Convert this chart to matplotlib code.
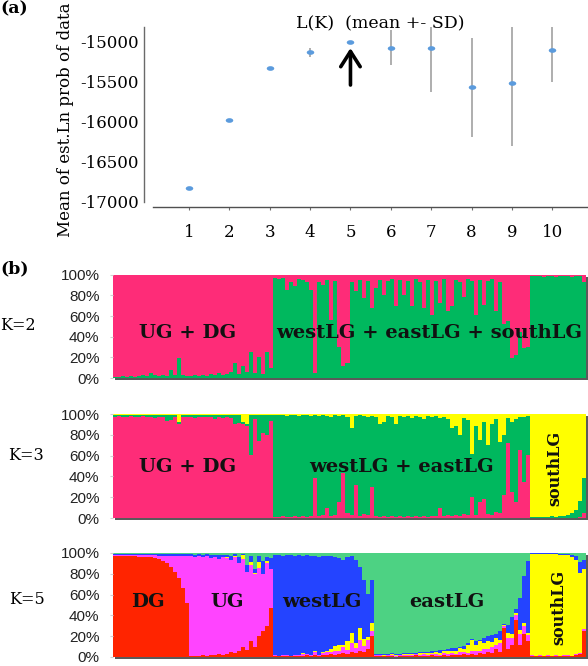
import numpy as np
import matplotlib
matplotlib.use("Agg")
import matplotlib.pyplot as plt
from matplotlib.path import Path
from matplotlib.transforms import Affine2D, ScaledTranslation
from matplotlib.patches import Rectangle
from matplotlib.ticker import PercentFormatter, FixedLocator

# ---------------- Panel (a) data: L(K) mean +- SD ----------------
K_values = [1, 2, 3, 4, 5, 6, 7, 8, 9, 10]
lnp_mean = [-16833, -15985, -15337, -15137, -15005, -15080, -15087, -15574, -15516, -15112]
lnp_sd = [0, 0, 0, 55, 0, 220, 540, 620, 790, 392]
y_ticks_a = [-17000, -16500, -16000, -15500, -15000]

# ---------------- Panel (b) data: STRUCTURE membership ----------------
group_names = ["DG", "UG", "westLG", "eastLG", "southLG"]
group_counts = [19, 21, 25, 39, 14]

# K=2 : green share (bottom), pink = remainder (top)
k2_green = ([0.01, 0.01, 0.02, 0.01, 0.02, 0.01, 0.02, 0.03, 0.02, 0.05, 0.03, 0.02, 0.03, 0.02, 0.08, 0.03, 0.19, 0.03, 0.02]
            + [0.02, 0.03, 0.02, 0.03, 0.02, 0.04, 0.03, 0.05, 0.03, 0.04, 0.06, 0.15, 0.04, 0.12, 0.06, 0.25, 0.05, 0.20, 0.04, 0.25, 0.10]
            + [0.97, 0.96, 0.97, 0.85, 0.93, 0.89, 0.96, 0.95, 0.93, 0.85, 0.05, 0.93, 0.90, 0.95, 0.56, 0.94, 0.30, 0.12, 0.15, 0.93, 0.84, 0.95, 0.77, 0.94, 0.68]
            + [0.87, 0.95, 0.80, 0.94, 0.96, 0.70, 0.95, 0.80, 0.94, 0.70, 0.96, 0.93, 0.68, 0.95, 0.61, 0.94, 0.73, 0.96, 0.65, 0.70,
               0.95, 0.93, 0.78, 0.96, 0.94, 0.61, 0.95, 0.71, 0.94, 0.96, 0.65, 0.93, 0.52, 0.55, 0.19, 0.22, 0.45, 0.29, 0.30]
            + [0.99, 0.99, 0.99, 0.98, 0.99, 0.99, 0.98, 0.99, 0.99, 0.99, 0.98, 0.99, 0.99, 0.93])

# K=3 : pink (bottom), green = remainder (middle), yellow (top)
k3_pink = ([0.97, 0.98, 0.97, 0.97, 0.98, 0.97, 0.97, 0.98, 0.97, 0.97, 0.96, 0.97, 0.97, 0.93, 0.94, 0.97, 0.90, 0.97, 0.97]
           + [0.97, 0.96, 0.97, 0.97, 0.97, 0.97, 0.95, 0.97, 0.96, 0.97, 0.96, 0.90, 0.91, 0.90, 0.88, 0.61, 0.95, 0.74, 0.82, 0.80, 0.93]
           + [0.01, 0.01, 0.02, 0.01, 0.01, 0.02, 0.01, 0.02, 0.01, 0.02, 0.38, 0.02, 0.03, 0.10, 0.02, 0.03, 0.15, 0.43, 0.05, 0.03,
              0.32, 0.02, 0.04, 0.03, 0.30]
           + [0.02, 0.01, 0.02, 0.01, 0.02, 0.01, 0.02, 0.01, 0.02, 0.01, 0.02, 0.01, 0.02, 0.01, 0.02, 0.02, 0.10, 0.02, 0.03, 0.02,
              0.03, 0.02, 0.04, 0.03, 0.20, 0.03, 0.15, 0.18, 0.04, 0.03, 0.06, 0.05, 0.22, 0.72, 0.25, 0.15, 0.65, 0.35, 0.61]
           + [0, 0, 0, 0, 0, 0, 0, 0, 0, 0, 0, 0, 0.01, 0.05])
k3_yellow = ([0.01] * 16 + [0.08, 0.01, 0.01]
             + [0.01, 0.01, 0.01, 0.01, 0.01, 0.01, 0.01, 0.01, 0.01, 0.01, 0.01, 0.01, 0.01, 0.08, 0.10, 0.01, 0.01, 0.01, 0.01, 0.01, 0.01]
             + [0.01, 0.01, 0.01, 0.02, 0.01, 0.01, 0.02, 0.01, 0.01, 0.02, 0.01, 0.02, 0.01, 0.02, 0.03, 0.01, 0.02, 0.01, 0.03, 0.13,
                0.02, 0.01, 0.02, 0.03, 0.02]
             + [0.03, 0.10, 0.08, 0.02, 0.03, 0.10, 0.02, 0.03, 0.02, 0.04, 0.02, 0.03, 0.05, 0.02, 0.03, 0.02, 0.04, 0.03, 0.05, 0.13,
                0.12, 0.20, 0.04, 0.06, 0.38, 0.12, 0.25, 0.08, 0.30, 0.10, 0.05, 0.27, 0.20, 0.04, 0.08, 0.05, 0.03, 0.03, 0.02]
             + [0.99, 0.99, 0.99, 0.99, 0.99, 0.98, 0.99, 0.98, 0.98, 0.97, 0.95, 0.92, 0.84, 0.62])

# K=5 : red, magenta, yellow, blue (stacked from bottom), green = remainder (top)
k5_red = ([0.97, 0.97, 0.97, 0.97, 0.97, 0.97, 0.96, 0.96, 0.96, 0.96, 0.95, 0.94, 0.92, 0.90, 0.87, 0.82, 0.76, 0.66, 0.52]
          + [0.01, 0.01, 0.01, 0.02, 0.01, 0.02, 0.02, 0.03, 0.02, 0.03, 0.05, 0.04, 0.06, 0.10, 0.07, 0.15, 0.10, 0.20, 0.25, 0.30, 0.47]
          + [0.01, 0.01, 0.01, 0.01, 0.01, 0.01, 0.01, 0.01, 0.02, 0.01, 0.02, 0.01, 0.02, 0.02, 0.03, 0.02, 0.03, 0.04, 0.03, 0.05,
             0.04, 0.06, 0.05, 0.08, 0.20]
          + [0.01, 0.01, 0.01, 0.01, 0.01, 0.00, 0.01, 0.01, 0.01, 0.01, 0.02, 0.01, 0.01, 0.01, 0.02, 0.01, 0.01, 0.02, 0.01, 0.02,
             0.02, 0.02, 0.03, 0.02, 0.03, 0.02, 0.04, 0.03, 0.05, 0.04, 0.08, 0.05, 0.28, 0.08, 0.12, 0.36, 0.12, 0.22, 0.15]
          + [0.01, 0.01, 0.01, 0.01, 0.01, 0.01, 0.01, 0.01, 0.01, 0.01, 0.01, 0.02, 0.03, 0.25])
k5_magenta = ([0.01, 0.01, 0.01, 0.01, 0.01, 0.01, 0.02, 0.02, 0.02, 0.02, 0.03, 0.03, 0.05, 0.07, 0.10, 0.15, 0.21, 0.31, 0.45]
              + [0.96, 0.95, 0.96, 0.94, 0.96, 0.93, 0.94, 0.91, 0.94, 0.92, 0.88, 0.92, 0.84, 0.84, 0.75, 0.73, 0.70, 0.66, 0.55, 0.60, 0.38]
              + [0.01, 0.00, 0.01, 0.01, 0.00, 0.01, 0.01, 0.02, 0.01, 0.01, 0.03, 0.01, 0.02, 0.03, 0.02, 0.04, 0.03, 0.06, 0.04, 0.08,
                 0.05, 0.10, 0.06, 0.08, 0.05]
              + [0.01, 0.01, 0.00, 0.01, 0.01, 0.01, 0.01, 0.01, 0.01, 0.01, 0.01, 0.01, 0.02, 0.01, 0.01, 0.02, 0.01, 0.02, 0.02, 0.02,
                 0.01, 0.03, 0.02, 0.02, 0.03, 0.04, 0.02, 0.05, 0.03, 0.06, 0.04, 0.08, 0.02, 0.10, 0.06, 0.04, 0.10, 0.08, 0.06]
              + [0.01, 0.00, 0.01, 0.00, 0.01, 0.00, 0.01, 0.00, 0.01, 0.01, 0.00, 0.01, 0.01, 0.02])
k5_yellow = ([0.0] * 19
             + [0, 0, 0, 0, 0, 0, 0, 0, 0, 0.01, 0, 0.01, 0, 0.04, 0, 0.03, 0.01, 0.05, 0, 0.02, 0]
             + [0, 0, 0, 0, 0, 0, 0, 0.01, 0, 0, 0.01, 0, 0.01, 0.01, 0.03, 0.05, 0.06, 0.02, 0.08, 0.10, 0.04, 0.12, 0.06, 0.03, 0.08]
             + [0, 0, 0.01, 0, 0.01, 0.01, 0, 0.01, 0.01, 0.01, 0, 0.02, 0.01, 0.02, 0.01, 0.02, 0.02, 0.02, 0.03, 0.02,
                0.03, 0.04, 0.03, 0.08, 0.10, 0.06, 0.09, 0.05, 0.07, 0.04, 0.06, 0.03, 0.01, 0.05, 0.04, 0.02, 0.04, 0.03, 0.02]
             + [0.97, 0.98, 0.97, 0.98, 0.97, 0.98, 0.97, 0.97, 0.96, 0.96, 0.95, 0.90, 0.77, 0.58])
k5_blue = ([0.01, 0.01, 0.01, 0.01, 0.01, 0.01, 0.01, 0.01, 0.01, 0.01, 0.01, 0.02, 0.02, 0.02, 0.02, 0.02, 0.02, 0.02, 0.02]
           + [0.02, 0.02, 0.02, 0.02, 0.02, 0.03, 0.02, 0.04, 0.02, 0.02, 0.04, 0.02, 0.06, 0.01, 0.06, 0.06, 0.04, 0.06, 0.12, 0.04, 0.10]
           + [0.96, 0.97, 0.95, 0.96, 0.97, 0.95, 0.96, 0.93, 0.95, 0.95, 0.91, 0.94, 0.92, 0.91, 0.89, 0.85, 0.83, 0.81, 0.81, 0.74,
              0.80, 0.59, 0.57, 0.42, 0.41]
           + [0.01, 0.01, 0.01, 0.01, 0.01, 0.01, 0.01, 0.01, 0.01, 0.01, 0.01, 0.01, 0.01, 0.01, 0.015, 0.01, 0.025, 0.01, 0.02, 0.025,
              0.03, 0.01, 0.03, 0.01, 0.01, 0.03, 0.01, 0.05, 0.05, 0.07, 0.04, 0.09, 0.01, 0.08, 0.16, 0.04, 0.31, 0.45, 0.69]
           + [0.01, 0.01, 0.01, 0.01, 0.01, 0.01, 0.01, 0.01, 0.01, 0.01, 0.02, 0.04, 0.10, 0.08])

# ---------------- styling ----------------
C_PINK, C_GREEN2, C_YELLOW = "#FE2C78", "#00B85E", "#FFFF00"
C_RED, C_MAG, C_BLUE, C_GREEN5 = "#FF2400", "#FF44FF", "#2444FF", "#4DD283"
SERIF = ["DejaVu Serif"]
SANS = ["Liberation Sans", "DejaVu Sans"]

W, H = 588, 666
fig = plt.figure(figsize=(W / 100, H / 100), dpi=100)


def px(x0, y0, x1, y1):
    """pixel box (top-left origin) -> figure fraction rect"""
    return [x0 / W, 1 - y1 / H, (x1 - x0) / W, (y1 - y0) / H]


# ---------------- Panel (a) ----------------
axa = fig.add_axes(px(152.7, 27.3, 588, 201.7))
axa.set_xlim(0.101, 10.884)
axa.set_ylim(-17000, -14825)
axa.errorbar(K_values, lnp_mean, yerr=lnp_sd, fmt="none", ecolor="#A8A8A8",
             elinewidth=1.3, capsize=0, zorder=1)
ellipse = Path.unit_circle().transformed(Affine2D().scale(1.0, 0.62))
axa.plot(K_values, lnp_mean, linestyle="none", marker=ellipse, markersize=5.4,
         color="#5B9BDD", markeredgewidth=0, zorder=3)
for s in ["top", "right"]:
    axa.spines[s].set_visible(False)
axa.spines["left"].set_position(("outward", 6.3))
axa.spines["bottom"].set_position(("outward", 4.0))
axa.spines["left"].set_color("#6A6A6A")
axa.spines["bottom"].set_color("#505050")
axa.spines["left"].set_linewidth(1.0)
axa.spines["bottom"].set_linewidth(1.0)
axa.set_xticks(K_values)
axa.set_yticks(y_ticks_a)
axa.tick_params(axis="x", direction="out", length=2.2, width=0.8, color="#707070",
                pad=10, labelsize=12)
axa.tick_params(axis="y", length=0, pad=3.6, labelsize=12)
for lab in axa.get_xticklabels() + axa.get_yticklabels():
    lab.set_family(SERIF)
axa.yaxis.set_major_formatter(matplotlib.ticker.FuncFormatter(lambda v, p: f"-{abs(int(v))}"))
axa.annotate("", xy=(5, -15084), xytext=(5, -15545),
             arrowprops=dict(arrowstyle="->,head_length=0.55,head_width=0.35",
                             lw=2.6, color="black", shrinkA=0, shrinkB=0,
                             mutation_scale=20))
fig.text(380 / W, 1 - 24 / H, "L(K)  (mean +- SD)", ha="center", va="center",
         family=SERIF, fontsize=12.5)
fig.text(65 / W, 1 - 120 / H, "Mean of est.Ln prob of data", rotation=90,
         ha="center", va="center", family=SERIF, fontsize=12)
fig.text(0.0, 1 - 9 / H, "(a)", ha="left", va="center", family=SERIF,
         fontweight="bold", fontsize=12.5)
fig.text(0.0, 1 - 269 / H, "(b)", ha="left", va="center", family=SERIF,
         fontweight="bold", fontsize=12.5)


# ---------------- Panel (b) ----------------
def structure_axes(box, comps, colors):
    ax = fig.add_axes(px(*box))
    # drop shadow
    off = ScaledTranslation(2 / 100, -2 / 100, fig.dpi_scale_trans)
    shadow = Rectangle((0, 0), 1, 1, transform=ax.transAxes + off,
                       facecolor="#5A5A5A", edgecolor="none", zorder=-5)
    fig.patches.append(shadow)
    n = len(comps[0])
    x = np.arange(n)
    bottom = np.zeros(n)
    for vals, c in zip(comps, colors):
        v = np.asarray(vals, dtype=float)
        ax.bar(x, v, width=1.0, bottom=bottom, color=c, linewidth=0,
               antialiased=False, align="center")
        bottom += v
    ax.set_xlim(-0.5, n - 0.5)
    ax.set_ylim(0, 1)
    for s in ax.spines.values():
        s.set_visible(False)
    ax.set_xticks([])
    ax.yaxis.set_major_locator(FixedLocator([0, 0.2, 0.4, 0.6, 0.8, 1.0]))
    ax.yaxis.set_major_formatter(PercentFormatter(1.0, decimals=0))
    ax.tick_params(axis="y", direction="out", length=2.2, width=0.8,
                   color="#D0D0D0", pad=7.8, labelsize=11)
    for lab in ax.get_yticklabels():
        lab.set_family(SANS)
        lab.set_color("#222222")
    return ax


g2 = np.asarray(k2_green)
ax2 = structure_axes((113.3, 274.7, 585.7, 378.0), [g2, 1 - g2], [C_GREEN2, C_PINK])

p3 = np.asarray(k3_pink)
y3 = np.asarray(k3_yellow)
gr3 = np.clip(1 - p3 - y3, 0, 1)
ax3 = structure_axes((113.3, 414.0, 585.7, 518.0), [p3, gr3, y3], [C_PINK, C_GREEN2, C_YELLOW])

r5 = np.asarray(k5_red)
m5 = np.asarray(k5_magenta)
y5 = np.asarray(k5_yellow)
b5 = np.asarray(k5_blue)
gr5 = np.clip(1 - r5 - m5 - y5 - b5, 0, 1)
ax5 = structure_axes((113.3, 553.0, 585.7, 657.0), [r5, m5, y5, b5, gr5],
                     [C_RED, C_MAG, C_YELLOW, C_BLUE, C_GREEN5])

lab_kw = dict(ha="center", va="center", family=SERIF, fontweight="bold",
              color="#111111")
ax2.text(0.157, 0.44, "UG + DG", transform=ax2.transAxes, fontsize=14, **lab_kw)
ax2.text(0.668, 0.44, "westLG + eastLG + southLG", transform=ax2.transAxes, fontsize=14, **lab_kw)
ax3.text(0.157, 0.49, "UG + DG", transform=ax3.transAxes, fontsize=14, **lab_kw)
ax3.text(0.611, 0.49, "westLG + eastLG", transform=ax3.transAxes, fontsize=14, **lab_kw)
ax3.text(0.935, 0.48, "southLG", transform=ax3.transAxes, fontsize=11.5, rotation=90, **lab_kw)
ax5.text(0.074, 0.53, "DG", transform=ax5.transAxes, fontsize=14, **lab_kw)
ax5.text(0.240, 0.53, "UG", transform=ax5.transAxes, fontsize=14, **lab_kw)
ax5.text(0.441, 0.53, "westLG", transform=ax5.transAxes, fontsize=14, **lab_kw)
ax5.text(0.706, 0.53, "eastLG", transform=ax5.transAxes, fontsize=14, **lab_kw)
ax5.text(0.9435, 0.48, "southLG", transform=ax5.transAxes, fontsize=11.5, rotation=90, **lab_kw)

fig.text(0.0, 1 - 325 / H, "K=2", ha="left", va="center", family=SERIF, fontsize=11.5)
fig.text(8 / W, 1 - 456 / H, "K=3", ha="left", va="center", family=SERIF, fontsize=11.5)
fig.text(9 / W, 1 - 600 / H, "K=5", ha="left", va="center", family=SERIF, fontsize=11.5)

fig.savefig("out.png", dpi=100)
